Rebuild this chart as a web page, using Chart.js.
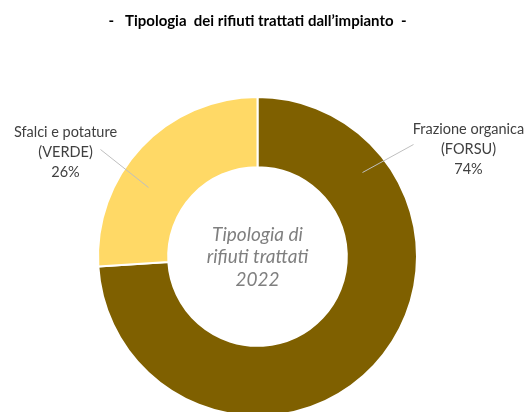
<!DOCTYPE html>
<html lang="it">
<head>
<meta charset="UTF-8">
<title>Tipologia dei rifiuti trattati</title>
<script src="https://cdn.jsdelivr.net/npm/chart.js"></script>
<style>
  html, body { margin: 0; padding: 0; background: #fff; overflow: hidden; }
  #wrap { width: 528px; height: 440px; }
</style>
</head>
<body>
<div id="wrap"><canvas id="rifiutiChart" width="528" height="440"></canvas></div>
<script>
  // dati
  var categorie = ['Frazione organica (FORSU)', 'Sfalci e potature (VERDE)'];
  var etichette = [['Frazione organica', '(FORSU)'], ['Sfalci e potature', '(VERDE)']];
  var percentuali = [74, 26];
  var colori = ['#7F6000', '#FFD966'];
  var testoCentro = ['Tipologia di', 'rifiuti trattati', '2022'];

  // posizione etichette e linee guida (coordinate rispetto al centro)
  var posEtichette = [
    { x: 211, y: -107, line: [[156, -112], [105, -84]] },
    { x: -192, y: -104, line: [[-157, -107], [-109, -69]] }
  ];

  var etichettePlugin = {
    id: 'etichette',
    afterDatasetsDraw: function (chart) {
      var ctx = chart.ctx;
      var meta = chart.getDatasetMeta(0);
      var arc = meta.data[0];
      var cx = arc.x, cy = arc.y;

      ctx.save();
      // testo centrale
      ctx.fillStyle = '#7f7f7f';
      ctx.font = 'italic 19px Lato, "Open Sans", sans-serif';
      ctx.textAlign = 'center';
      ctx.textBaseline = 'middle';
      for (var i = 0; i < testoCentro.length; i++) {
        ctx.fillText(testoCentro[i], cx, cy - 22 + i * 22.5);
      }

      // etichette dati
      meta.data.forEach(function (el, idx) {
        var p = posEtichette[idx];
        ctx.strokeStyle = '#bfbfbf';
        ctx.lineWidth = 1;
        ctx.beginPath();
        ctx.moveTo(cx + p.line[0][0], cy + p.line[0][1]);
        ctx.lineTo(cx + p.line[1][0], cy + p.line[1][1]);
        ctx.stroke();

        ctx.fillStyle = '#404040';
        ctx.font = '14.5px Lato, "Open Sans", sans-serif';
        var righe = etichette[idx].concat([percentuali[idx] + '%']);
        for (var r = 0; r < righe.length; r++) {
          ctx.fillText(righe[r], cx + p.x, cy + p.y + (r - 1) * 20);
        }
      });
      ctx.restore();
    }
  };

  var ctx = document.getElementById('rifiutiChart').getContext('2d');
  var chart = new Chart(ctx, {
    type: 'doughnut',
    data: {
      labels: categorie,
      datasets: [{
        data: percentuali,
        backgroundColor: colori,
        borderColor: '#ffffff',
        borderWidth: 2,
        hoverOffset: 0
      }]
    },
    options: {
      responsive: false,
      animation: false,
      cutout: '56%',
      layout: { padding: { top: 0, left: 97, right: 110, bottom: 23 } },
      plugins: {
        legend: { display: false },
        tooltip: { enabled: false },
        title: {
          display: true,
          text: '-   Tipologia  dei rifiuti trattati dall\u2019impianto  -',
          color: '#000000',
          font: { family: 'Lato, "Open Sans", sans-serif', size: 15, weight: 'bold' },
          padding: { top: 12, bottom: 66 }
        }
      }
    },
    plugins: [etichettePlugin]
  });
</script>
</body>
</html>
